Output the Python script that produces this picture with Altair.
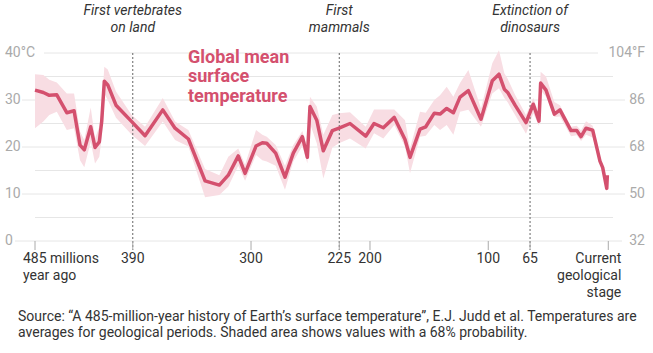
import altair as alt
import pandas as pd

# ---- data (millions of years ago, °C) ----
age_ma = [481.4, 474.4, 469.4, 463.1, 454.7, 448.6, 443.6, 440.0, 434.6, 431.0,
          427.4, 425.4, 423.2, 420.3, 413.4, 400.2, 389.0, 374.1, 363.8, 352.6,
          338.6, 326.6, 319.1, 310.7, 305.0, 295.8, 290.5, 286.8, 279.3, 271.5,
          264.5, 256.9, 252.7, 250.5, 244.8, 239.3, 231.7, 226.1, 216.9, 203.7,
          196.7, 188.9, 179.7, 170.7, 166.5, 158.1, 153.3, 146.1, 141.3, 135.7,
          130.1, 124.5, 117.5, 106.9, 97.4, 91.8, 87.3, 84.5, 78.3, 69.1,
          63.0, 58.2, 56.8, 52.3, 45.3, 40.6, 31.3, 26.5, 22.9, 18.7,
          13.1, 7.0, 4.7, 1.3, 0.8]
temp_c = [32.1, 31.6, 31.0, 31.1, 27.3, 27.7, 20.4, 19.4, 24.3, 19.9,
          21.1, 25.4, 34.0, 33.2, 28.9, 25.4, 22.4, 27.9, 24.0, 21.7,
          12.8, 11.9, 14.0, 18.1, 14.4, 20.2, 20.9, 20.8, 18.7, 13.6,
          18.7, 22.2, 17.8, 28.6, 25.7, 19.2, 23.5, 24.0, 25.0, 22.3,
          25.0, 24.1, 26.3, 21.6, 17.8, 23.8, 24.3, 27.2, 27.0, 28.2,
          27.3, 30.6, 32.0, 25.9, 34.1, 35.5, 32.3, 31.6, 28.9, 25.2,
          29.1, 25.5, 33.6, 32.1, 27.0, 27.9, 23.5, 23.5, 22.2, 24.0,
          23.6, 17.0, 15.6, 11.2, 14.0]
low_c = [24.0, 25.4, 26.8, 27.5, 23.6, 24.0, 17.2, 15.7, 21.1, 16.5,
         17.9, 22.0, 31.4, 30.0, 26.2, 22.6, 20.2, 25.4, 21.5, 20.1,
         9.3, 9.8, 11.6, 16.0, 12.8, 18.3, 17.2, 16.9, 16.0, 10.9,
         16.9, 20.2, 16.5, 25.0, 20.8, 13.3, 19.9, 20.8, 21.8, 19.7,
         22.9, 21.8, 24.7, 20.1, 14.4, 22.2, 22.4, 24.7, 23.6, 24.7,
         22.6, 27.5, 27.9, 24.3, 31.4, 32.5, 30.4, 29.5, 26.8, 22.8,
         27.2, 24.5, 32.1, 30.7, 26.4, 26.5, 22.3, 22.5, 21.3, 22.6,
         22.0, 16.5, 15.2, 11.0, 13.8]
high_c = [35.5, 35.3, 34.3, 33.7, 31.4, 31.4, 23.3, 21.5, 28.4, 21.8,
          24.3, 28.0, 37.1, 36.5, 31.8, 26.8, 24.3, 30.4, 25.4, 23.6,
          15.3, 14.0, 17.9, 19.7, 16.2, 23.6, 22.6, 22.2, 20.4, 16.0,
          20.4, 23.4, 20.0, 30.7, 28.6, 22.6, 26.8, 27.2, 27.4, 24.3,
          28.0, 28.0, 28.0, 25.7, 19.7, 27.5, 27.3, 30.0, 31.0, 32.8,
          30.7, 33.6, 36.4, 28.2, 37.8, 40.6, 35.7, 34.5, 31.1, 26.8,
          30.4, 27.0, 36.0, 35.0, 29.6, 28.9, 24.3, 24.5, 23.5, 25.5,
          24.5, 17.5, 16.0, 11.5, 14.2]

tick_ma = [481.4, 399.3, 300, 225.9, 200.1, 100.8, 65.7, 0]
tick_labels = ["485 millions\nyear ago", "390", "300", "225", "200", "100", "65",
               "Current\ngeological\nstage"]

event_ma = [399.3, 225.9, 65.7]
event_labels = ["First vertebrates\non land", "First\nmammals", "Extinction of\ndinosaurs"]

grid_major = [0, 10, 20, 30, 40]
grid_minor = [5, 15, 25, 35]
celsius_labels = ["0", "10", "20", "30", "40°C"]
fahrenheit_labels = ["32", "50", "68", "86", "104°F"]

title_text = "Global mean\nsurface\ntemperature"
source_text = ("Source: “A 485-million-year history of Earth’s surface temperature”, E.J. Judd et al. Temperatures are\n"
               "averages for geological periods. Shaded area shows values with a 68% probability.")

# ---- styling ----
FONT = "Roboto"
LINE = "#d4506e"
BAND = "#f8dde3"
GRID = "#e6e6e6"
W, H = 578, 188

xs = alt.Scale(domain=[-3.95, 481.4], reverse=True, nice=False, zero=False)
ys = alt.Scale(domain=[0, 40], nice=False, zero=False)

df = pd.DataFrame({"age": age_ma, "temp": temp_c, "low": low_c, "high": high_c})
ticks = pd.DataFrame({"ma": tick_ma, "label": tick_labels})
events = pd.DataFrame({"ma": event_ma, "label": event_labels})
ylab = pd.DataFrame({"v": grid_major, "c": celsius_labels, "f": fahrenheit_labels})
minor = pd.DataFrame({"v": grid_minor})

X = lambda f: alt.X(f, type="quantitative", scale=xs, axis=None)
Y = lambda f: alt.Y(f, type="quantitative", scale=ys, axis=None)

minor_grid = alt.Chart(minor).mark_rule(color=GRID, strokeWidth=1).encode(
    y=Y("v"), x=alt.value(0), x2=alt.value(W))
major_mid = alt.Chart(ylab).transform_filter("datum.v > 0 && datum.v < 40").mark_rule(
    color=GRID, strokeWidth=1).encode(y=Y("v"), x=alt.value(-13), x2=alt.value(590))
major_top = alt.Chart(ylab).transform_filter("datum.v == 40").mark_rule(
    color=GRID, strokeWidth=1).encode(y=Y("v"), x=alt.value(9), x2=alt.value(563))
major_zero = alt.Chart(ylab).transform_filter("datum.v == 0").mark_rule(
    color=GRID, strokeWidth=1).encode(y=Y("v"), x=alt.value(-20), x2=alt.value(587))

band = alt.Chart(df).mark_area(color=BAND, opacity=1).encode(
    x=X("age"), y=Y("low"), y2="high")
line = alt.Chart(df).mark_line(color=LINE, strokeWidth=3.5, strokeJoin="round").encode(
    x=X("age"), y=Y("temp"))

event_rules = alt.Chart(events).mark_rule(color="#666", strokeDash=[2, 2], strokeWidth=1).encode(
    x=X("ma"), y=alt.value(0), y2=alt.value(197))
tick_marks = alt.Chart(ticks).mark_rule(color="#aaa", strokeWidth=1).encode(
    x=X("ma"), y=alt.value(188), y2=alt.value(197))

def tick_text(flt, align, dx):
    return alt.Chart(ticks).transform_filter(flt).mark_text(
        align=align, baseline="alphabetic", dx=dx, font=FONT, fontSize=14,
        color="#333", lineBreak="\n", lineHeight=17).encode(
        x=X("ma"), y=alt.value(210), text="label:N")

tick_left = tick_text("datum.ma > 450", "left", -12)
tick_center = tick_text("datum.ma <= 450 && datum.ma > 1", "center", 0)
tick_right = tick_text("datum.ma <= 1", "right", 13)

c_labels = alt.Chart(ylab).mark_text(align="left", baseline="middle", font=FONT,
                                     fontSize=14, color="#aaa").encode(
    x=alt.value(-30), y=Y("v"), text="c:N")
f_labels = alt.Chart(ylab).mark_text(align="right", baseline="middle", font=FONT,
                                     fontSize=14, color="#aaa").encode(
    x=alt.value(610), y=Y("v"), text="f:N")

event_text = alt.Chart(events).mark_text(
    align="center", baseline="alphabetic", font=FONT, fontSize=14, fontStyle="italic",
    color="#333", lineBreak="\n", lineHeight=17).encode(
    x=X("ma"), y=alt.value(-38), text="label:N")

title = alt.Chart(pd.DataFrame({"t": [title_text]})).mark_text(
    align="left", baseline="alphabetic", font=FONT, fontSize=18, fontWeight="bold",
    color=LINE, lineBreak="\n", lineHeight=19.5).encode(
    x=alt.value(153), y=alt.value(9.7), text="t:N")

source = alt.Chart(pd.DataFrame({"t": [source_text]})).mark_text(
    align="left", baseline="alphabetic", font=FONT, fontSize=14,
    color="#333", lineBreak="\n", lineHeight=16).encode(
    x=alt.value(-17), y=alt.value(268), text="t:N")

chart = alt.layer(
    minor_grid, major_mid, major_top, major_zero,
    band, event_rules, tick_marks, line,
    tick_left, tick_center, tick_right, c_labels, f_labels,
    event_text, title, source
).properties(
    width=W, height=H, autosize="none",
    padding={"left": 35, "top": 53, "right": 40, "bottom": 112}
).configure_view(stroke=None)

chart.save("out.html", embed_options={"renderer": "svg", "actions": False})
